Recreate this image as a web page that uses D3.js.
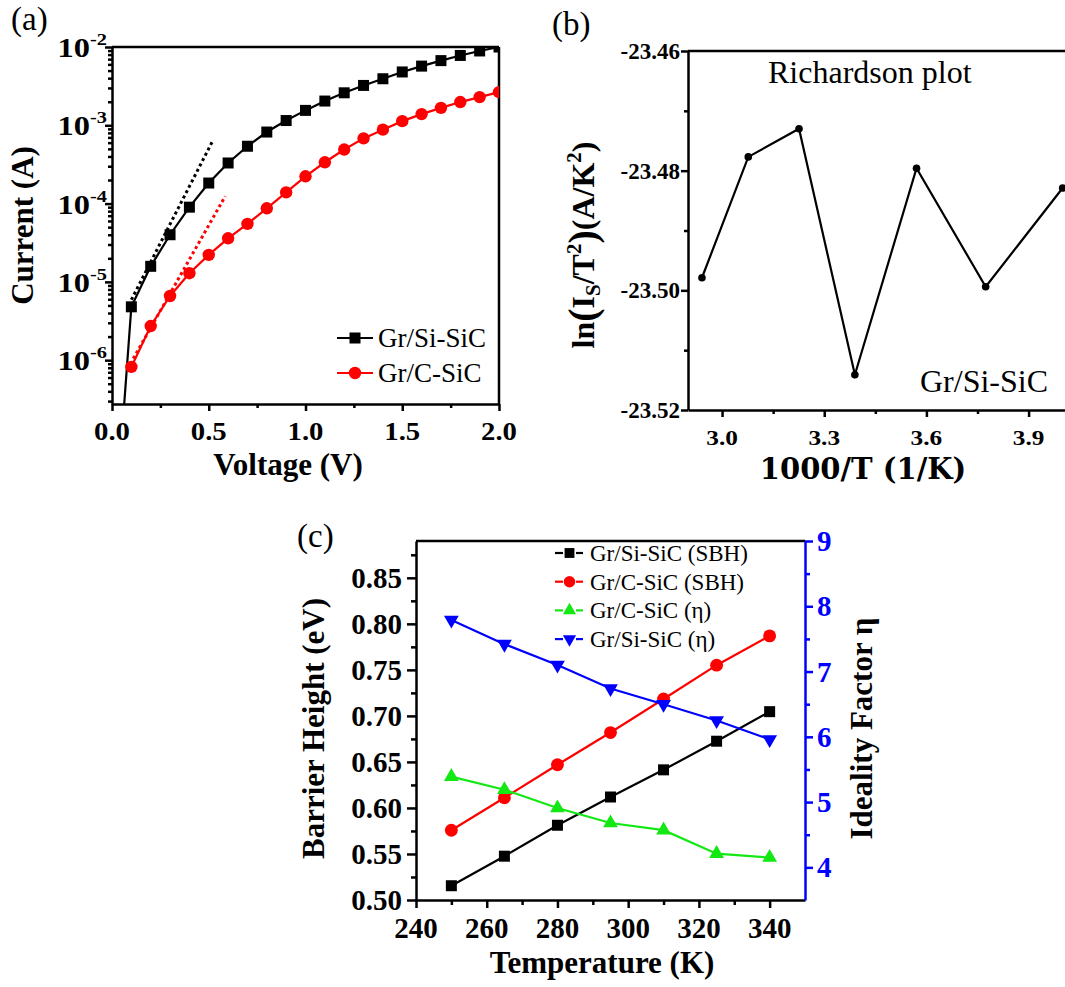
<!DOCTYPE html>
<html>
<head>
<meta charset="utf-8">
<script src="https://cdn.jsdelivr.net/npm/d3@7"></script>
<style>
  body { margin: 0; background: #fff; }
  svg { display: block; font-family: "Liberation Serif", "Times New Roman", serif; }
  .axis path, .axis line { stroke: #000; stroke-width: 2.5px; }
</style>
</head>
<body>
<div id="fig"></div>
<script>
// ---------- panel (a) data : I-V ----------
var voltage = [0.1, 0.2, 0.3, 0.4, 0.5, 0.6, 0.7, 0.8, 0.9, 1.0, 1.1, 1.2, 1.3, 1.4, 1.5, 1.6, 1.7, 1.8, 1.9, 2.0];
var currentSiSiC = [4.8e-6, 1.58e-5, 4.0e-5, 9.0e-5, 1.83e-4, 3.3e-4, 5.4e-4, 8.2e-4, 1.15e-3, 1.55e-3,
                    2.04e-3, 2.6e-3, 3.23e-3, 3.93e-3, 4.8e-3, 5.7e-3, 6.7e-3, 7.8e-3, 8.9e-3, 1.0e-2];
var currentCSiC = [8.2e-7, 2.73e-6, 6.6e-6, 1.29e-5, 2.21e-5, 3.6e-5, 5.5e-5, 8.7e-5, 1.39e-4, 2.23e-4,
                   3.37e-4, 4.9e-4, 6.8e-4, 8.8e-4, 1.13e-3, 1.39e-3, 1.67e-3, 1.98e-3, 2.29e-3, 2.65e-3];
var leadSiV = [0.05], leadSiI = [1.0e-7];          // steep rise below the first marker
var fitSiV = [0.1, 0.52], fitSiI = [5.9e-6, 6.3e-4]; // dotted linear-region fits
var fitCV = [0.11, 0.585], fitCI = [1.05e-6, 1.24e-4];
var decadesA = [1e-6, 1e-5, 1e-4, 1e-3, 1e-2];
var voltTicks = [0, 0.5, 1.0, 1.5, 2.0];

// ---------- panel (b) data : Richardson ----------
var invT = [2.941, 3.077, 3.226, 3.390, 3.571, 3.774, 4.000];
var lnIsT2 = [-23.4979, -23.4777, -23.4730, -23.5141, -23.4796, -23.4994, -23.4829];
var invTTicks = [3.0, 3.3, 3.6, 3.9];
var lnTicks = [-23.46, -23.48, -23.50, -23.52];

// ---------- panel (c) data : SBH and ideality ----------
var temperature = [250, 265, 280, 295, 310, 325, 340];
var sbhSiSiC = [0.5155, 0.5476, 0.5812, 0.6119, 0.6414, 0.6725, 0.7046];
var sbhCSiC = [0.5758, 0.6111, 0.6469, 0.6819, 0.7183, 0.7551, 0.7869];
var etaCSiC = [5.39, 5.19, 4.91, 4.68, 4.57, 4.21, 4.15];
var etaSiSiC = [7.79, 7.42, 7.10, 6.74, 6.50, 6.25, 5.96];
var tempTicks = [240, 260, 280, 300, 320, 340];
var sbhTicks = [0.50, 0.55, 0.60, 0.65, 0.70, 0.75, 0.80, 0.85];
var etaTicks = [4, 5, 6, 7, 8, 9];

var RED = "#ff0000", GREEN = "#14e814", BLUE = "#0000ff";

var svg = d3.select("#fig").append("svg")
  .attr("width", 1065).attr("height", 987);
var defs = svg.append("defs");

function zip(xs, ys) { return xs.map(function(x, i) { return [x, ys[i]]; }); }

// tick labels drawn as plain svg text (bold serif like the figure)
function tickLabels(g, values, fx, fy, anchor, fmt, size, color, sx) {
  g.selectAll(null).data(values).enter().append("text")
    .attr("transform", function(d) {
      return "translate(" + fx(d) + "," + fy(d) + ")" + (sx ? " scale(" + sx + ",1)" : "");
    })
    .attr("text-anchor", anchor)
    .style("font-weight", "bold").style("font-size", size + "px")
    .style("fill", color || "#000")
    .text(fmt);
}

// ================= panel (a) =================
var aL = 112, aT = 47, aW = 387, aH = 357;
var xA = d3.scaleLinear().domain([0, 2]).range([0, aW]);
var yA = d3.scaleLog().domain([Math.pow(10, -6.56), 1e-2]).range([aH, 0]);
var gA = svg.append("g").attr("transform", "translate(" + aL + "," + aT + ")");

defs.append("clipPath").attr("id", "clipA").append("rect").attr("width", aW).attr("height", aH);

var minorA = [];
decadesA.concat([1e-7]).forEach(function(d) {
  for (var k = 2; k <= 9; k++) { var v = d * k; if (v > yA.domain()[0] && v < 1e-2) minorA.push(v); }
});

gA.append("g").attr("class", "axis")
  .call(d3.axisLeft(yA).tickValues(minorA).tickSize(4).tickFormat(""))
  .select(".domain").remove();
gA.append("g").attr("class", "axis")
  .call(d3.axisLeft(yA).tickValues(decadesA).tickSize(7).tickSizeOuter(0).tickFormat(""));

decadesA.forEach(function(d) {
  var t = gA.append("text")
    .attr("transform", "translate(-5," + (yA(d) + 10) + ") scale(1.2,1)")
    .attr("text-anchor", "end")
    .style("font-weight", "bold");
  t.append("tspan").style("font-size", "27px").text("10");
  t.append("tspan").attr("dy", -12).style("font-size", "17px").text(Math.round(Math.log10(d)));
});

gA.append("g").attr("class", "axis")
  .attr("transform", "translate(0," + aH + ")")
  .call(d3.axisBottom(xA).tickValues(d3.range(0.25, 2, 0.5)).tickSize(4).tickFormat(""))
  .select(".domain").remove();
gA.append("g").attr("class", "axis")
  .attr("transform", "translate(0," + aH + ")")
  .call(d3.axisBottom(xA).tickValues(voltTicks).tickSize(7).tickSizeOuter(0).tickFormat(""));
tickLabels(gA, voltTicks, xA, function() { return aH + 36; }, "middle",
  d3.format(".1f"), 25, "#000", 1.15);

// box top + right
gA.append("line").attr("x1", 0).attr("x2", aW).attr("y1", 0).attr("y2", 0)
  .attr("stroke", "#000").attr("stroke-width", 2.5);
gA.append("line").attr("x1", aW).attr("x2", aW).attr("y1", 0).attr("y2", aH)
  .attr("stroke", "#000").attr("stroke-width", 2.5);

var lineA = d3.line().x(function(d) { return xA(d[0]); }).y(function(d) { return yA(d[1]); });
var plotA = gA.append("g").attr("clip-path", "url(#clipA)");

plotA.append("path").datum(zip(fitSiV, fitSiI)).attr("d", lineA)
  .attr("fill", "none").attr("stroke", "#000").attr("stroke-width", 3).attr("stroke-dasharray", "3,3");
plotA.append("path").datum(zip(fitCV, fitCI)).attr("d", lineA)
  .attr("fill", "none").attr("stroke", RED).attr("stroke-width", 3).attr("stroke-dasharray", "3,3");

plotA.append("path").datum(zip(leadSiV.concat(voltage), leadSiI.concat(currentSiSiC))).attr("d", lineA)
  .attr("fill", "none").attr("stroke", "#000").attr("stroke-width", 2.2);
plotA.append("path").datum(zip(voltage, currentCSiC)).attr("d", lineA)
  .attr("fill", "none").attr("stroke", RED).attr("stroke-width", 2.2);

plotA.selectAll(".sq").data(zip(voltage, currentSiSiC)).enter().append("rect")
  .attr("x", function(d) { return xA(d[0]) - 5.5; }).attr("y", function(d) { return yA(d[1]) - 5.5; })
  .attr("width", 11).attr("height", 11).attr("fill", "#000");
plotA.selectAll(".ci").data(zip(voltage, currentCSiC)).enter().append("circle")
  .attr("cx", function(d) { return xA(d[0]); }).attr("cy", function(d) { return yA(d[1]); })
  .attr("r", 6.2).attr("fill", RED);

// legend (a)
var legA = [{ name: "Gr/Si-SiC", color: "#000", sym: "square", y: 291 },
            { name: "Gr/C-SiC", color: RED, sym: "circle", y: 326 }];
legA.forEach(function(l) {
  var g = gA.append("g").attr("transform", "translate(225," + l.y + ")");
  g.append("line").attr("x1", 0).attr("x2", 36).attr("stroke", l.color).attr("stroke-width", 2.2);
  if (l.sym === "square") g.append("rect").attr("x", 12.5).attr("y", -5.5).attr("width", 11).attr("height", 11).attr("fill", l.color);
  else g.append("circle").attr("cx", 18).attr("r", 6.2).attr("fill", l.color);
  g.append("text").attr("x", 41).attr("y", 9).style("font-size", "27px").text(l.name);
});

gA.append("text").attr("transform", "translate(" + (33 - aL) + "," + (aH / 2) + ") rotate(-90)")
  .attr("text-anchor", "middle").style("font-size", "31px").style("font-weight", "bold")
  .text("Current (A)");
gA.append("text").attr("x", aW * 0.455).attr("y", 428)
  .attr("text-anchor", "middle").style("font-size", "31px").style("font-weight", "bold")
  .text("Voltage (V)");
svg.append("text").attr("x", 11).attr("y", 30).style("font-size", "33px").text("(a)");

// ================= panel (b) =================
var bL = 688, bT = 51, bH = 359;
var xB = d3.scaleLinear().domain([2.9, 4.1]).range([0, 408.7]);
var yB = d3.scaleLinear().domain([-23.52, -23.46]).range([bH, 0]);
var gB = svg.append("g").attr("transform", "translate(" + bL + "," + bT + ")");

gB.append("g").attr("class", "axis")
  .call(d3.axisLeft(yB).tickValues([-23.51, -23.49, -23.47]).tickSize(4).tickFormat(""))
  .select(".domain").remove();
gB.append("g").attr("class", "axis")
  .call(d3.axisLeft(yB).tickValues(lnTicks).tickSize(7).tickSizeOuter(0).tickFormat(""));
tickLabels(gB, lnTicks, function() { return -8; }, function(d) { return yB(d) + 8; }, "end",
  function(d) { return d.toFixed(2); }, 23);

gB.append("g").attr("class", "axis")
  .attr("transform", "translate(0," + bH + ")")
  .call(d3.axisBottom(xB).tickValues([3.15, 3.45, 3.75]).tickSize(4).tickFormat(""))
  .select(".domain").remove();
gB.append("g").attr("class", "axis")
  .attr("transform", "translate(0," + bH + ")")
  .call(d3.axisBottom(xB).tickValues(invTTicks).tickSize(7).tickSizeOuter(0).tickFormat(""));
tickLabels(gB, invTTicks, xB, function() { return bH + 35; }, "middle",
  d3.format(".1f"), 22, "#000", 1.15);

gB.append("line").attr("x1", 0).attr("x2", 420).attr("y1", 0).attr("y2", 0)
  .attr("stroke", "#000").attr("stroke-width", 2.5);

var lineB = d3.line().x(function(d) { return xB(d[0]); }).y(function(d) { return yB(d[1]); });
gB.append("path").datum(zip(invT, lnIsT2)).attr("d", lineB)
  .attr("fill", "none").attr("stroke", "#000").attr("stroke-width", 2.2);
gB.selectAll(".pt").data(zip(invT, lnIsT2)).enter().append("circle")
  .attr("cx", function(d) { return xB(d[0]); }).attr("cy", function(d) { return yB(d[1]); })
  .attr("r", 3.8).attr("fill", "#000");

gB.append("text").attr("x", 80).attr("y", 32).style("font-size", "32px").text("Richardson plot");
gB.append("text").attr("x", 232).attr("y", 341).style("font-size", "32px").text("Gr/Si-SiC");

var yTitleB = gB.append("text").attr("transform", "translate(-94," + (194) + ") rotate(-90)")
  .attr("text-anchor", "middle").style("font-size", "32px").style("font-weight", "bold");
yTitleB.append("tspan").text("ln");
yTitleB.append("tspan").style("font-size", "40px").attr("dy", 2).text("(");
yTitleB.append("tspan").attr("dy", -2).text("I");
yTitleB.append("tspan").style("font-size", "21px").attr("dy", 6).text("S");
yTitleB.append("tspan").attr("dy", -6).text("/T");
yTitleB.append("tspan").style("font-size", "21px").attr("dy", -13).text("2");
yTitleB.append("tspan").style("font-size", "40px").attr("dy", 15).text(")");
yTitleB.append("tspan").attr("dy", -2).text("(A/K");
yTitleB.append("tspan").style("font-size", "21px").attr("dy", -13).text("2");
yTitleB.append("tspan").attr("dy", 13).text(")");

gB.append("text").attr("x", 175).attr("y", 428)
  .attr("text-anchor", "middle").style("font-size", "29px").style("font-weight", "bold")
  .style("font-family", "'DejaVu Serif', serif")
  .text("1000/T (1/K)");
svg.append("text").attr("x", 552).attr("y", 35).style("font-size", "33px").text("(b)");

// ================= panel (c) =================
var cL = 416, cT = 541, cW = 389, cH = 359;
var xC = d3.scaleLinear().domain([240, 350]).range([0, cW]);
var yC = d3.scaleLinear().domain([0.5, 0.89]).range([cH, 0]);
var yC2 = d3.scaleLinear().domain([3.5, 9]).range([cH, 0]);
var gC = svg.append("g").attr("transform", "translate(" + cL + "," + cT + ")");

gC.append("g").attr("class", "axis")
  .call(d3.axisLeft(yC).tickValues(d3.range(0.525, 0.89, 0.05)).tickSize(5).tickFormat(""))
  .select(".domain").remove();
gC.append("g").attr("class", "axis")
  .call(d3.axisLeft(yC).tickValues(sbhTicks).tickSize(9).tickSizeOuter(0).tickFormat(""));
tickLabels(gC, sbhTicks, function() { return -14; }, function(d) { return yC(d) + 10; }, "end",
  d3.format(".2f"), 29);

gC.append("g").attr("class", "axis")
  .attr("transform", "translate(0," + cH + ")")
  .call(d3.axisBottom(xC).tickValues(d3.range(250, 350, 20)).tickSize(5).tickFormat(""))
  .select(".domain").remove();
gC.append("g").attr("class", "axis")
  .attr("transform", "translate(0," + cH + ")")
  .call(d3.axisBottom(xC).tickValues(tempTicks).tickSize(8).tickSizeOuter(0).tickFormat(""));
tickLabels(gC, tempTicks, xC, function() { return cH + 38; }, "middle", d3.format("d"), 29);

gC.append("line").attr("x1", 0).attr("x2", cW).attr("y1", 0).attr("y2", 0)
  .attr("stroke", "#000").attr("stroke-width", 2.5);

var rightAxis = gC.append("g").attr("class", "axis")
  .attr("transform", "translate(" + cW + ",0)");
rightAxis.append("g")
  .call(d3.axisRight(yC2).tickValues(d3.range(4.5, 9, 1)).tickSize(5).tickFormat(""))
  .select(".domain").remove();
rightAxis.append("g")
  .call(d3.axisRight(yC2).tickValues(etaTicks).tickSize(8).tickSizeOuter(0).tickFormat(""));
rightAxis.selectAll("path, line").style("stroke", BLUE);
tickLabels(gC, etaTicks, function() { return cW + 12; }, function(d) { return yC2(d) + 10; }, "start",
  d3.format("d"), 29, BLUE);

var seriesC = [
  { name: "Gr/Si-SiC (SBH)", ys: sbhSiSiC, scale: yC, color: "#000", sym: d3.symbolSquare, size: 121, rot: 0 },
  { name: "Gr/C-SiC (SBH)", ys: sbhCSiC, scale: yC, color: RED, sym: d3.symbolCircle, size: 130, rot: 0 },
  { name: "Gr/C-SiC (\u03b7)", ys: etaCSiC, scale: yC2, color: GREEN, sym: d3.symbolTriangle, size: 95, rot: 0 },
  { name: "Gr/Si-SiC (\u03b7)", ys: etaSiSiC, scale: yC2, color: BLUE, sym: d3.symbolTriangle, size: 95, rot: 180 }
];

seriesC.forEach(function(s) {
  var ln = d3.line().x(function(d) { return xC(d[0]); }).y(function(d) { return s.scale(d[1]); });
  gC.append("path").datum(zip(temperature, s.ys)).attr("d", ln)
    .attr("fill", "none").attr("stroke", s.color).attr("stroke-width", 2.2);
});
seriesC.forEach(function(s) {
  gC.selectAll(null).data(zip(temperature, s.ys)).enter().append("path")
    .attr("d", d3.symbol().type(s.sym).size(s.size))
    .attr("transform", function(d) {
      return "translate(" + xC(d[0]) + "," + s.scale(d[1]) + ") rotate(" + s.rot + ")";
    })
    .attr("fill", s.color);
});

// legend (c)
seriesC.forEach(function(s, i) {
  var g = gC.append("g").attr("transform", "translate(139," + (12 + i * 28.7) + ")");
  g.append("line").attr("x1", 0).attr("x2", 8).attr("stroke", s.color).attr("stroke-width", 2.2);
  g.append("line").attr("x1", 21).attr("x2", 28).attr("stroke", s.color).attr("stroke-width", 2.2);
  g.append("path").attr("d", d3.symbol().type(s.sym).size(s.size * 0.8))
    .attr("transform", "translate(14.5,0) rotate(" + s.rot + ")").attr("fill", s.color);
  g.append("text").attr("x", 35).attr("y", 8).style("font-size", "23px").text(s.name);
});

gC.append("text").attr("transform", "translate(-92," + (cH / 2 + 8) + ") rotate(-90)")
  .attr("text-anchor", "middle").style("font-size", "31px").style("font-weight", "bold")
  .text("Barrier Height (eV)");
gC.append("text").attr("transform", "translate(" + (cW + 67) + "," + (cH / 2 + 8) + ") rotate(-90)")
  .attr("text-anchor", "middle").style("font-size", "31px").style("font-weight", "bold")
  .text("Ideality Factor \u03b7");
gC.append("text").attr("x", 186).attr("y", 432)
  .attr("text-anchor", "middle").style("font-size", "31px").style("font-weight", "bold")
  .text("Temperature (K)");
svg.append("text").attr("x", 297).attr("y", 547).style("font-size", "33px").text("(c)");
</script>
</body>
</html>
